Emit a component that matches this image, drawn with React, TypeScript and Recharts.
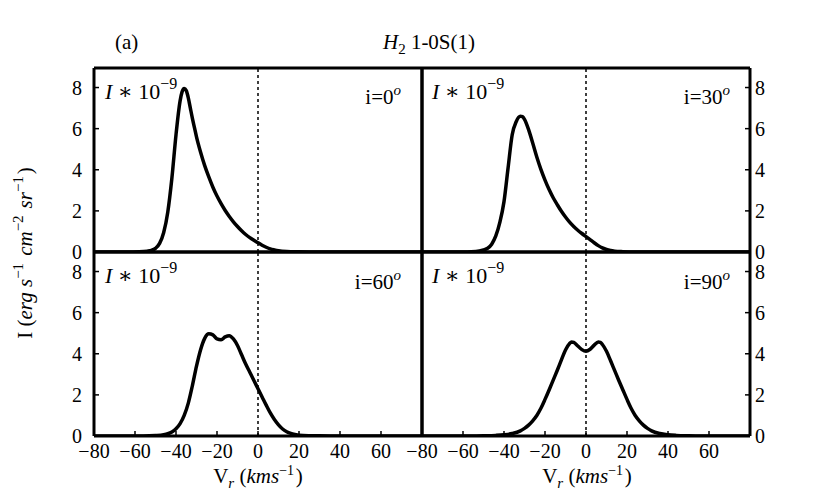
import React from 'react';
import { LineChart, Line, XAxis, YAxis, ReferenceLine } from 'recharts';

// velocity ticks (km/s) and intensity ticks (x 1e-9)
const velocityTicks = [-80, -60, -40, -20, 0, 20, 40, 60];
const intensityTicks = [0, 2, 4, 6, 8];

// [V_r, I]
const profile0 = [
  [-80, 0], [-64, 0], [-58, 0.01], [-54, 0.04], [-52, 0.08], [-50, 0.18], [-48, 0.42],
  [-46, 0.95], [-44, 1.95], [-42, 3.6], [-40, 5.7], [-38, 7.35], [-37, 7.8], [-36, 7.95],
  [-35, 7.85], [-34, 7.5], [-33, 7.0], [-32, 6.5], [-31, 6.05], [-30, 5.6], [-28, 4.85],
  [-26, 4.2], [-24, 3.65], [-22, 3.15], [-20, 2.72], [-18, 2.35], [-16, 2.02], [-14, 1.73],
  [-12, 1.47], [-10, 1.24], [-8, 1.03], [-6, 0.85], [-4, 0.7], [-2, 0.57], [0, 0.45],
  [2, 0.33], [4, 0.23], [6, 0.15], [8, 0.1], [10, 0.06], [14, 0.025], [20, 0.01], [30, 0],
  [80, 0],
];

const profile30 = [
  [-80, 0], [-60, 0], [-56, 0.01], [-52, 0.05], [-48, 0.18], [-46, 0.38], [-44, 0.78],
  [-42, 1.45], [-40, 2.45], [-38, 4.1], [-36, 5.7], [-34, 6.35], [-32, 6.6], [-31, 6.58],
  [-30, 6.45], [-28, 5.95], [-26, 5.3], [-24, 4.62], [-22, 4.02], [-20, 3.5], [-18, 3.04],
  [-16, 2.64], [-14, 2.3], [-12, 1.98], [-10, 1.7], [-8, 1.45], [-6, 1.24], [-4, 1.06],
  [-2, 0.9], [0, 0.75], [2, 0.6], [4, 0.45], [6, 0.31], [8, 0.2], [10, 0.12], [12, 0.07],
  [14, 0.04], [18, 0.015], [24, 0], [80, 0],
];

const profile60 = [
  [-80, 0], [-56, 0], [-50, 0.02], [-46, 0.06], [-44, 0.11], [-42, 0.2], [-40, 0.35],
  [-38, 0.6], [-36, 1.0], [-34, 1.6], [-32, 2.45], [-30, 3.4], [-28, 4.2], [-26, 4.75],
  [-24, 4.97], [-22, 4.92], [-20, 4.72], [-18, 4.68], [-16, 4.82], [-14, 4.88], [-12, 4.72],
  [-10, 4.4], [-8, 3.95], [-6, 3.5], [-4, 3.1], [-2, 2.7], [0, 2.3], [2, 1.9], [4, 1.5],
  [6, 1.12], [8, 0.8], [10, 0.54], [12, 0.34], [14, 0.21], [16, 0.13], [18, 0.08],
  [22, 0.03], [30, 0.01], [40, 0], [80, 0],
];

const profile90 = [
  [-80, 0], [-56, 0], [-50, 0.01], [-44, 0.03], [-40, 0.06], [-36, 0.12], [-32, 0.25],
  [-30, 0.37], [-28, 0.53], [-26, 0.74], [-24, 1.0], [-22, 1.35], [-20, 1.78], [-18, 2.24],
  [-16, 2.72], [-14, 3.2], [-12, 3.7], [-10, 4.18], [-8, 4.5], [-7, 4.57], [-6, 4.55],
  [-4, 4.38], [-2, 4.2], [0, 4.12], [2, 4.22], [4, 4.42], [6, 4.57], [7, 4.55], [8, 4.45],
  [10, 4.12], [12, 3.66], [14, 3.18], [16, 2.7], [18, 2.24], [20, 1.78], [22, 1.35], [24, 1.0],
  [26, 0.74], [28, 0.53], [30, 0.37], [32, 0.25], [36, 0.12], [40, 0.06], [44, 0.03],
  [50, 0.01], [56, 0], [80, 0],
];

const FONT = '"Liberation Serif", "DejaVu Serif", serif';
const PW = 328; // plot width
const PH = 184; // plot height
const MX = 30;
const MY = 20;
const YW = 60;
const XH = 40;

const fmt = (v: number) => (v < 0 ? `\u2212${Math.abs(v)}` : `${v}`);
const blank = () => '';

interface PanelProps {
  data: number[][];
  px: number;
  py: number;
  side: 'left' | 'right';
  bottom: boolean;
}

const Panel: React.FC<PanelProps> = ({ data, px, py, side, bottom }) => {
  const rows = data.map(([v, i]) => ({ v, i }));
  const leftW = side === 'left' ? YW : 1;
  const rightW = side === 'left' ? 1 : YW;
  const bottomH = bottom ? XH : 1;
  const W = MX + leftW + PW + rightW + MX;
  const H = MY + 1 + PH + bottomH + MY;
  const axisLine = { stroke: '#000', strokeWidth: 3 };
  const tickLine = { stroke: '#000', strokeWidth: 1.5 };
  const tickStyle = { fill: '#000', fontSize: 20, fontFamily: FONT };

  return (
    <div style={{ position: 'absolute', left: px - MX - leftW, top: py - MY - 1 }}>
      <LineChart width={W} height={H} data={rows} margin={{ top: MY, right: MX, bottom: MY, left: MX }}>
        <XAxis xAxisId="b" dataKey="v" type="number" domain={[-80, 80]} ticks={velocityTicks}
          allowDataOverflow height={bottomH} axisLine={axisLine} tickLine={tickLine}
          tickSize={-5} tickMargin={bottom ? 13 : 0} tick={bottom ? tickStyle : false}
          tickFormatter={bottom ? fmt : blank} interval={0} />
        <XAxis xAxisId="t" orientation="top" dataKey="v" type="number" domain={[-80, 80]}
          ticks={velocityTicks} allowDataOverflow height={1} axisLine={axisLine}
          tickLine={tickLine} tickSize={-5} tick={false} interval={0} />
        <YAxis yAxisId="l" orientation="left" type="number" domain={[0, 8.95]}
          ticks={intensityTicks} allowDataOverflow width={leftW} axisLine={axisLine}
          tickLine={tickLine} tickSize={-5} tickMargin={side === 'left' ? 17 : 0}
          tick={side === 'left' ? tickStyle : false} tickFormatter={fmt} interval={0} />
        <YAxis yAxisId="r" orientation="right" type="number" domain={[0, 8.95]}
          ticks={intensityTicks} allowDataOverflow width={rightW} axisLine={axisLine}
          tickLine={tickLine} tickSize={-5} tickMargin={side === 'right' ? 10 : 0}
          tick={side === 'right' ? tickStyle : false} tickFormatter={fmt} interval={0} />
        <ReferenceLine xAxisId="b" yAxisId="l" x={0} stroke="#000" strokeWidth={1.5}
          strokeDasharray="3 3" />
        <Line xAxisId="b" yAxisId="l" dataKey="i" type="monotone" stroke="#000"
          strokeWidth={3.5} dot={false} isAnimationActive={false} />
      </LineChart>
    </div>
  );
};

const Sup: React.FC<{ children: React.ReactNode; size?: number; rise?: number }> = ({ children, size = 15, rise = 9 }) => (
  <>
    <tspan dy={-rise} fontSize={size}>{children}</tspan>
    <tspan dy={rise}>{'\u200a'}</tspan>
  </>
);

const PanelText: React.FC<{ x0: number; x1: number; y: number; angle: string }> = ({ x0, x1, y, angle }) => (
  <>
    <text x={x0} y={y} fontSize={22}>
      <tspan fontStyle="italic">I</tspan> {'\u2217'} 10<Sup size={16} rise={10}>{'\u22129'}</Sup>
    </text>
    <text x={x1} y={y + 5.5} textAnchor="end" fontSize={21}>
      i={angle}<tspan dy={-9} fontSize={15} fontStyle="italic">o</tspan>
    </text>
  </>
);

const App: React.FC = () => {
  const left = 94;
  const right = 422;
  const top = 68;
  const low = 252;
  return (
    <div style={{ position: 'absolute', left: 0, top: 0, width: 814, height: 492, background: '#fff', fontFamily: FONT }}>
      <Panel data={profile0} px={left} py={top} side="left" bottom={false} />
      <Panel data={profile30} px={right} py={top} side="right" bottom={false} />
      <Panel data={profile60} px={left} py={low} side="left" bottom />
      <Panel data={profile90} px={right} py={low} side="right" bottom />
      <svg width={814} height={492} style={{ position: 'absolute', left: 0, top: 0, pointerEvents: 'none' }}
        fontFamily={FONT} fontSize={21} fill="#000">
        <text x={115} y={49}>(a)</text>
        <text x={429} y={49} textAnchor="middle">
          <tspan fontStyle="italic">H</tspan><tspan dy={5} fontSize={15}>2</tspan>
          <tspan dy={-5}> 1-0S(1)</tspan>
        </text>
        <PanelText x0={105} x1={401} y={98.5} angle="0" />
        <PanelText x0={432} x1={730} y={98.5} angle="30" />
        <PanelText x0={105} x1={401} y={283} angle="60" />
        <PanelText x0={432} x1={730} y={283} angle="90" />
        <text transform="rotate(-90 32 253)" x={32} y={253} textAnchor="middle">
          I (<tspan fontStyle="italic">erg s</tspan><Sup>{'\u22121'}</Sup>
          <tspan fontStyle="italic"> cm</tspan><Sup>{'\u22122'}</Sup>
          <tspan fontStyle="italic"> sr</tspan><Sup>{'\u22121'}</Sup>)
        </text>
        {[258, 587].map((cx) => (
          <text key={cx} x={cx} y={483} textAnchor="middle">
            V<tspan dy={5} fontSize={15} fontStyle="italic">r</tspan>
            <tspan dy={-5}> (</tspan><tspan fontStyle="italic">kms</tspan><Sup size={14} rise={8}>{'\u22121'}</Sup>)
          </text>
        ))}
      </svg>
    </div>
  );
};

export default App;
